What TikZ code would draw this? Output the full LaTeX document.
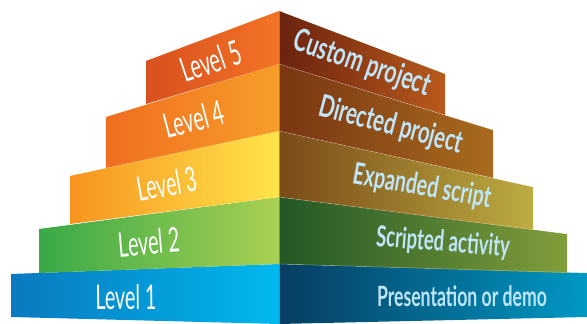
\documentclass[tikz,border=0pt]{standalone}
\usepackage{fontspec}
\newfontfamily\lvlfont{Lato}
\newfontfamily\descfont{Lato}
\definecolor{lfiveA}{HTML}{D8501F}\definecolor{lfiveB}{HTML}{F37324}
\definecolor{rfiveA}{HTML}{6B220F}\definecolor{rfiveB}{HTML}{B95A1C}
\definecolor{lfourA}{HTML}{F06E21}\definecolor{lfourB}{HTML}{F79E29}
\definecolor{rfourA}{HTML}{7A3512}\definecolor{rfourB}{HTML}{A96B1F}
\definecolor{lthreeA}{HTML}{F7941F}\definecolor{lthreeB}{HTML}{FFE54C}
\definecolor{rthreeA}{HTML}{7A4A18}\definecolor{rthreeB}{HTML}{BCAC41}
\definecolor{ltwoA}{HTML}{38A948}\definecolor{ltwoM}{HTML}{A2CC4F}\definecolor{ltwoB}{HTML}{AAD052}
\definecolor{rtwoA}{HTML}{225826}\definecolor{rtwoB}{HTML}{819D3B}
\definecolor{loneA}{HTML}{0A79BF}\definecolor{loneB}{HTML}{00B8EE}
\definecolor{roneA}{HTML}{073D61}\definecolor{roneB}{HTML}{0098C4}
\definecolor{desctext}{HTML}{BEE5F8}
\tikzset{
  lvltext/.style={text=white, font=\lvlfont\fontsize{34}{34}\selectfont, inner sep=0pt, anchor=center},
  desctext/.style={text=desctext, font=\descfont\bfseries\fontsize{28}{28}\selectfont, inner sep=0pt, anchor=center},
  seam/.style={white, opacity=0.35, line width=0.5pt}
}
\begin{document}
\begin{tikzpicture}[x=1pt,y=-1pt]
\useasboundingbox (0,0) rectangle (587,324);
% Level 1
\shade[left color=loneA, right color=loneB] (11,274) -- (279,264) -- (279,324) -- (11,317) -- cycle;
\shade[left color=roneA, right color=roneB] (279,264) -- (587,273) -- (587,317) -- (279,324) -- cycle;
% Level 2
\shade[left color=ltwoA, middle color=ltwoM, right color=ltwoB] (39,229) -- (279,197) -- (279,264) -- (39,273) -- cycle;
\shade[left color=rtwoA, right color=rtwoB] (279,197) -- (567,234) -- (567,273) -- (279,264) -- cycle;
% Level 3
\shade[left color=lthreeA, right color=lthreeB] (70,176) -- (279,131) -- (279,197) -- (70,224) -- cycle;
\shade[left color=rthreeA, right color=rthreeB] (279,131) -- (533,187) -- (533,230) -- (279,197) -- cycle;
% Level 4
\shade[left color=lfourA, right color=lfourB] (106,117) -- (279,64) -- (279,131) -- (106,168) -- cycle;
\shade[left color=rfourA, right color=rfourB] (279,64) -- (493,130) -- (493,178) -- (279,131) -- cycle;
% Level 5
\shade[left color=lfiveA, right color=lfiveB] (146,61) -- (279,11) -- (279,64) -- (146,104) -- cycle;
\shade[left color=rfiveA, right color=rfiveB] (279,11) -- (445,74) -- (445,115) -- (279,64) -- cycle;
% seams
\draw[seam] (279,11) -- (279,324);
\draw[seam] (279,64) -- (493,130);
\draw[seam] (279,131) -- (533,187);
\draw[seam] (279,197) -- (567,234);
\draw[seam] (279,264) -- (587,273);
% labels
\node[lvltext, rotate=18.5, xscale=0.58] (l5) at (211,61) {Level 5};
\node[lvltext, rotate=14.5, xscale=0.58] (l4) at (194,119) {Level 4};
\node[lvltext, rotate=10, xscale=0.58] (l3) at (167,184) {Level 3};
\node[lvltext, rotate=5, xscale=0.58] (l2) at (149,242) {Level 2};
\node[lvltext, rotate=0.5, xscale=0.58] (l1) at (126,297) {Level 1};
\node[desctext, rotate=-19, xscale=0.75, yscale=1.12] (d5) at (362,64) {Custom project};
\node[desctext, rotate=-14.8, xscale=0.73, yscale=1.1] (d4) at (391,126) {Directed project};
\node[desctext, rotate=-10, xscale=0.70, yscale=1.07] (d3) at (422,187) {Expanded script};
\node[desctext, rotate=-4.5, xscale=0.66, yscale=1.04] (d2) at (443,243) {Scripted activity};
\node[desctext, rotate=0, xscale=0.63] (d1) at (462,296) {Presentation or demo};
\end{tikzpicture}
\end{document}
